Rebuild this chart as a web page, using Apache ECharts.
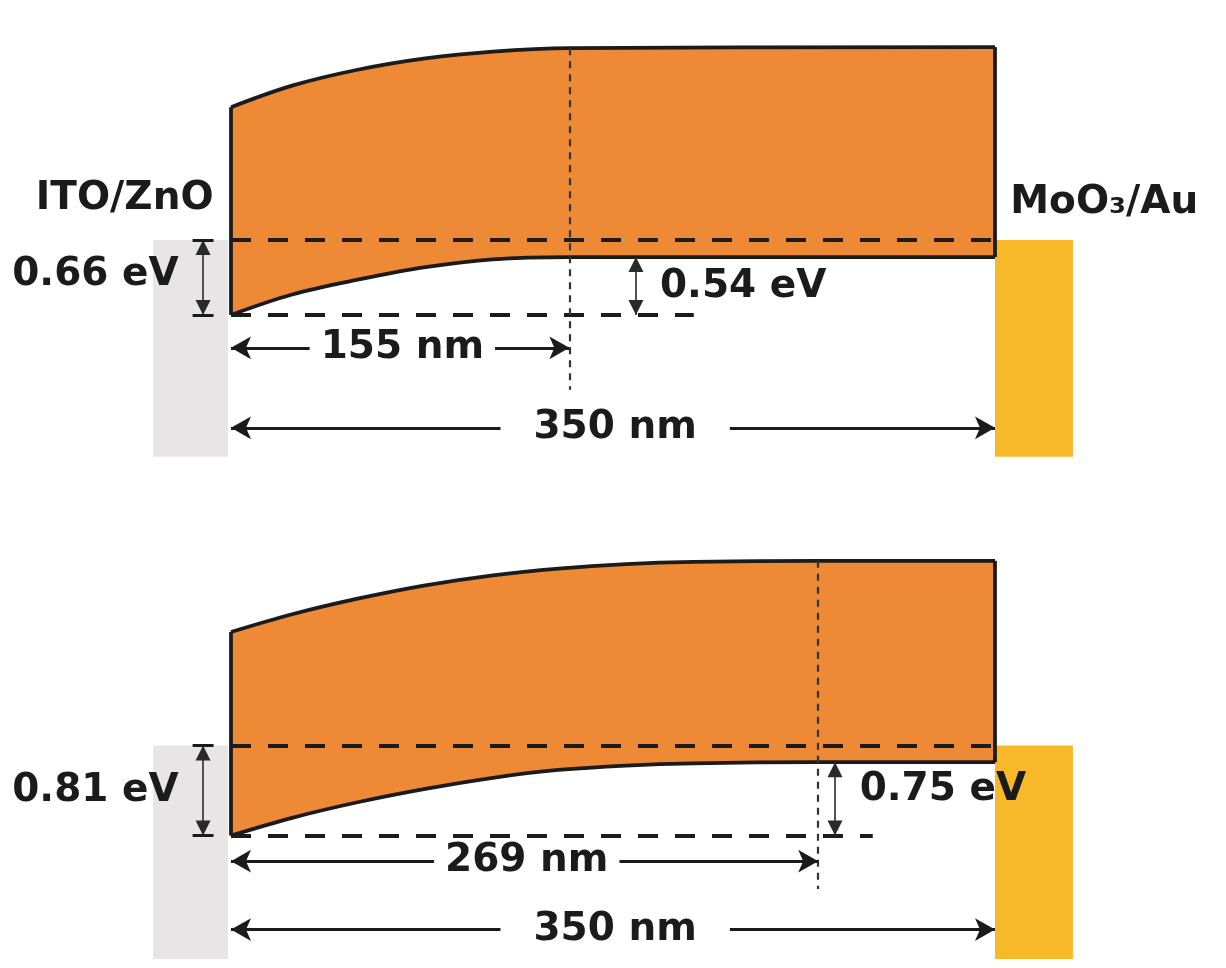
<!DOCTYPE html>
<html>
<head>
<meta charset="utf-8">
<script src="https://cdn.jsdelivr.net/npm/echarts@6/dist/echarts.min.js"></script>
<style>
  html, body { margin: 0; padding: 0; background: #fff; }
  #chart { width: 1226px; height: 968px; }
</style>
</head>
<body>
<div id="chart"></div>
<script>
// band edges: position in nm, energy in eV (Fermi level = 0)
const topX = [0, 28, 58, 89, 120, 155, 350];
const topUpper = [1.17, 1.36, 1.50, 1.60, 1.66, 1.69, 1.70];
const topLower = [-0.66, -0.48, -0.35, -0.24, -0.17, -0.15, -0.15];

const botX = [0, 28, 58, 89, 120, 150, 181, 212, 269, 350];
const botUpper = [1.02, 1.18, 1.32, 1.44, 1.53, 1.59, 1.63, 1.65, 1.66, 1.66];
const botLower = [-0.81, -0.65, -0.51, -0.39, -0.29, -0.22, -0.18, -0.16, -0.15, -0.15];

// labelled quantities
const fermiGap = [0.66, 0.81];   // eV, interface side
const bending = [0.54, 0.75];    // eV
const depletion = [155, 269];    // nm
const thickness = 350;           // nm
const leftName = 'ITO/ZnO';
const rightName = 'MoO₃/Au';

const INK = '#1b1b1b';
const ORANGE = '#EE8A35';
const GRAY = '#E7E5E5';
const YELLOW = '#F7B92A';
const FONT = { fontFamily: 'DejaVu Sans', fontWeight: 'bold', fontSize: 39, color: INK };

// layout of the annotations (axis units)
const panels = [
  { x: topX, upper: topUpper, lower: topLower, dashEnd: 212, bendX: 185.5, bendLabelX: 196.5,
    bendLabelY: -0.41, gapLabelY: -0.31, wY: -0.95, tY: -1.655, vEnd: -1.32, bottom: -1.91 },
  { x: botX, upper: botUpper, lower: botLower, dashEnd: 294, bendX: 276.7, bendLabelX: 288,
    bendLabelY: -0.40, gapLabelY: -0.41, wY: -1.04, tY: -1.655, vEnd: -1.29, bottom: -1.92 }
];

const zip = (a, b) => a.map((v, i) => [v, b[i]]);
const last = a => a[a.length - 1];

function seg(a, b, style, sym, size, offset) {
  const s = sym || ['none', 'none'];
  const sz = size || [14, 14];
  const off = [0, offset || 0];
  return [
    { coord: a, symbol: s[0], symbolSize: sz, symbolOffset: off, lineStyle: style },
    { coord: b, symbol: s[1], symbolSize: sz, symbolOffset: off }
  ];
}

const series = [];
panels.forEach((p, i) => {
  const gap = fermiGap[i];
  const w = depletion[i];
  const wIdx = p.x.indexOf(w);
  const solid = { color: INK, width: 3.8, type: 'solid' };
  const fermiDash = { color: INK, width: 4, type: [20, 17] };
  const thinDash = { color: '#333', width: 2.2, type: [7, 6] };
  const dotted = { color: '#888', width: 1.3, type: [2, 3] };
  const thin = { color: '#2a2a2a', width: 1.6, type: 'solid' };
  const arrowLine = { color: INK, width: 3, type: 'solid' };
  const capStyle = { color: INK, width: 3, type: 'solid' };

  // electrodes
  series.push({
    type: 'line', xAxisIndex: i, yAxisIndex: i, data: [], z: 1, silent: true,
    markArea: {
      silent: true, label: { show: false },
      data: [
        [{ coord: [-35.7, 0], itemStyle: { color: GRAY } }, { coord: [-1.4, p.bottom] }],
        [{ coord: [thickness, 0], itemStyle: { color: YELLOW } }, { coord: [385.7, p.bottom] }]
      ]
    }
  });

  // band: orange down from the upper edge, masked in white below the lower edge
  series.push({
    type: 'line', xAxisIndex: i, yAxisIndex: i, z: 2, silent: true,
    data: zip(p.x, p.upper), smooth: 0.35, symbol: 'none',
    lineStyle: { color: INK, width: 3.8 },
    areaStyle: { color: ORANGE, opacity: 1, origin: 'start' }
  });
  series.push({
    type: 'line', xAxisIndex: i, yAxisIndex: i, z: 3, silent: true,
    data: zip(p.x, p.lower), smooth: 0.35, symbol: 'none',
    lineStyle: { color: INK, width: 3.8 },
    areaStyle: { color: '#fff', opacity: 1, origin: 'start' }
  });

  const arr = ['arrow', 'arrow'];
  const tri = ['triangle', 'triangle'];
  series.push({
    type: 'line', xAxisIndex: i, yAxisIndex: i, data: [], z: 4, silent: true,
    markLine: {
      silent: true, animation: false, symbol: ['none', 'none'], label: { show: false },
      data: [
        seg([0, p.lower[0]], [0, p.upper[0]], solid),
        seg([thickness, last(p.lower)], [thickness, last(p.upper)], solid),
        seg([0, p.upper[0]], [0, 2.02], dotted),
        seg([thickness, last(p.upper)], [thickness, 2.02], dotted),
        seg([0, 0], [thickness, 0], fermiDash),
        seg([0, -gap], [p.dashEnd, -gap], fermiDash),
        seg([w, p.upper[wIdx]], [w, p.vEnd], thinDash),
        // Fermi level to interface band edge
        seg([-12.8, 0], [-12.8, -gap], thin, tri, [15, 15], 7.5),
        seg([-17.6, 0], [-8.0, 0], capStyle),
        seg([-17.6, -gap], [-8.0, -gap], capStyle),
        // band bending
        seg([p.bendX, last(p.lower)], [p.bendX, -gap], thin, tri, [15, 15], 7.5),
        // widths
        seg([0, p.wY], [w, p.wY], arrowLine, arr, [17, 20]),
        seg([0, p.tY], [thickness, p.tY], arrowLine, arr, [17, 20])
      ]
    }
  });

  const lbl = (x, y, text, align, extra) => ({
    value: [x, y], name: text,
    label: Object.assign({ align: align }, extra || {})
  });
  const labels = [
    lbl(-24, p.gapLabelY, gap.toFixed(2) + ' eV', 'right'),
    lbl(p.bendLabelX, p.bendLabelY, bending[i].toFixed(2) + ' eV', 'left'),
    lbl(w / 2 + 1, p.wY, w + ' nm', 'center', { backgroundColor: '#fff', padding: [0, 11] }),
    lbl(thickness / 2 + 1, p.tY, thickness + ' nm', 'center', { backgroundColor: '#fff', padding: [0, 33] })
  ];
  if (i === 0) {
    labels.push(lbl(-8, 0.36, leftName, 'right'));
    labels.push(lbl(357, 0.33, rightName, 'left'));
  }
  series.push({
    type: 'scatter', xAxisIndex: i, yAxisIndex: i, z: 5, silent: true,
    symbolSize: 1, itemStyle: { color: 'rgba(0,0,0,0)', opacity: 1 },
    label: Object.assign({ show: true, position: 'inside', formatter: '{b}', verticalAlign: 'middle', opacity: 1 }, FONT),
    data: labels
  });
});

const axisOff = { show: false };
const option = {
  animation: false,
  backgroundColor: '#fff',
  grid: [
    { left: 0, right: 0, top: 13, height: 454 },
    { left: 0, right: 0, top: 523, height: 454 }
  ],
  xAxis: [0, 1].map(i => Object.assign({ type: 'value', gridIndex: i, min: -105.83, max: 455.83 }, axisOff)),
  yAxis: [0, 1].map(i => Object.assign({ type: 'value', gridIndex: i, min: -2, max: 2 }, axisOff)),
  series: series
};

const chart = echarts.init(document.getElementById('chart'));
chart.setOption(option);
</script>
</body>
</html>
